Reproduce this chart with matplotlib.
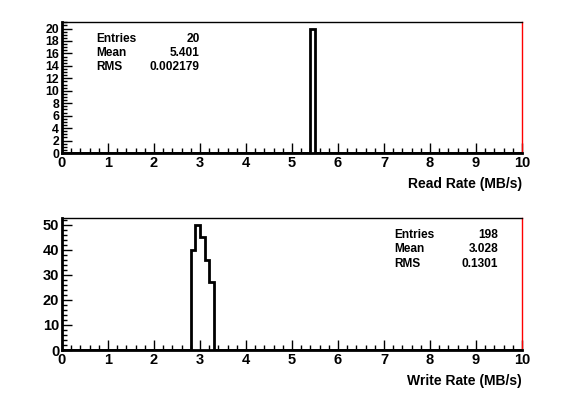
import numpy as np
import matplotlib.pyplot as plt

plt.rcParams['font.family'] = ['Liberation Sans', 'DejaVu Sans']
plt.rcParams['font.weight'] = 'bold'

# histogram bins (0.1 MB/s wide) from 0 to 10
bin_edges = np.round(np.arange(0, 10.01, 0.1), 2)

read_bins = [5.4]
read_counts = [20]
read_stats = [("Entries", "20"), ("Mean", "5.401"), ("RMS", "0.002179")]

write_bins = [2.8, 2.9, 3.0, 3.1, 3.2]
write_counts = [40, 50, 45, 36, 27]
write_stats = [("Entries", "198"), ("Mean", "3.028"), ("RMS", "0.1301")]


def fill_hist(bins, counts):
    h = np.zeros(len(bin_edges) - 1)
    for b, c in zip(bins, counts):
        h[int(round(b * 10))] = c
    return h


def root_hist(ax, bins, counts, xlabel, ymax, ymajor, yminor, stats, stat_pos, ylabsize=10.5):
    h = fill_hist(bins, counts)
    ax.stairs(h, bin_edges, color="black", lw=2)
    ax.set_xlim(0, 10)
    ax.set_ylim(0, ymax)
    ax.set_xticks(range(0, 11))
    ax.set_xticks(np.arange(0, 10.01, 0.2), minor=True)
    ax.set_yticks(np.arange(0, ymax, ymajor))
    ax.set_yticks(np.arange(0, ymax, yminor), minor=True)
    ax.tick_params(which="both", direction="in", top=False, right=False, width=1)
    ax.tick_params(axis="x", labelsize=10.5)
    ax.tick_params(axis="y", labelsize=ylabsize)
    ax.tick_params(which="major", length=7, pad=2)
    ax.tick_params(which="minor", length=3.5)
    for lab in ax.get_xticklabels() + ax.get_yticklabels():
        lab.set_fontweight("bold")
    ax.spines["left"].set_linewidth(2)
    ax.spines["bottom"].set_linewidth(2)
    ax.spines["top"].set_linewidth(1)
    ax.spines["right"].set_linewidth(1)
    ax.spines["right"].set_color("red")
    ax.set_xlabel(xlabel, fontsize=10, fontweight="bold", loc="right", labelpad=5)
    x0, x1, y0 = stat_pos
    for i, (name, val) in enumerate(stats):
        y = y0 - i * 0.108
        ax.text(x0, y, name, transform=ax.transAxes, fontsize=8.6, fontweight="bold",
                ha="left", va="center")
        ax.text(x1, y, val, transform=ax.transAxes, fontsize=8.6, fontweight="bold",
                ha="right", va="center")


fig = plt.figure(figsize=(5.87, 3.94), dpi=100)
W, H = 587, 394
ax1 = fig.add_axes([62 / W, 1 - 153 / H, 460 / W, 131 / H])
ax2 = fig.add_axes([62 / W, 1 - 350 / H, 460 / W, 132 / H])

root_hist(ax1, read_bins, read_counts, "Read Rate (MB/s)", 21.05, 2, 0.5,
          read_stats, (0.075, 0.30, 0.87), ylabsize=8.8)
root_hist(ax2, write_bins, write_counts, "Write Rate (MB/s)", 52.6, 10, 2,
          write_stats, (0.722, 0.948, 0.87))

fig.savefig("out.png", dpi=100)
